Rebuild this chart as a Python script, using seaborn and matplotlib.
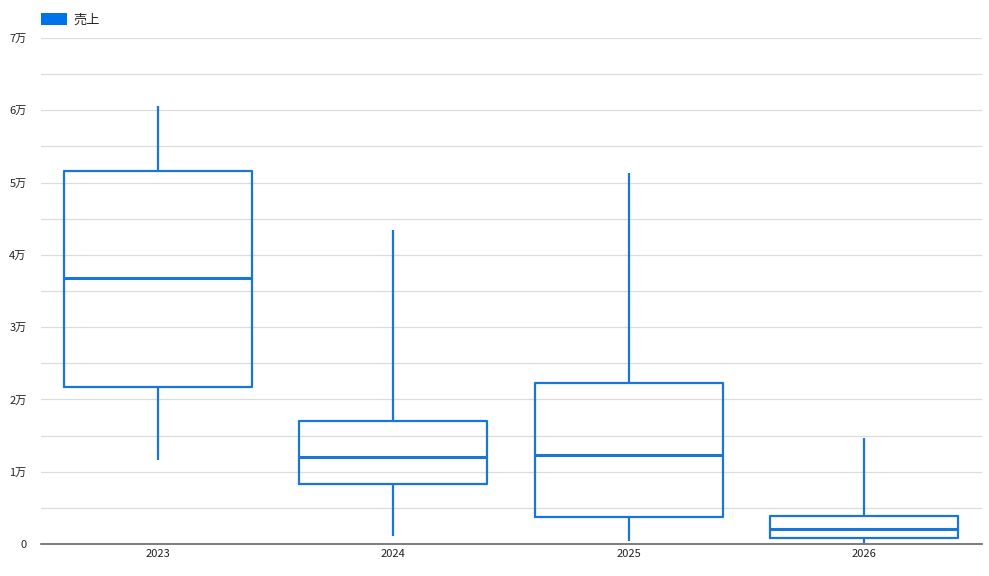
import matplotlib
matplotlib.use("Agg")
import matplotlib.pyplot as plt
from matplotlib.patches import Patch
from matplotlib.ticker import FuncFormatter, MultipleLocator
import pandas as pd
import seaborn as sns

years = ["2023", "2024", "2025", "2026"]
# min, q1, median, q3, max for each year
stats_2023 = [11600, 21700, 36800, 51600, 60600]
stats_2024 = [1100, 8300, 12000, 17000, 43400]
stats_2025 = [400, 3700, 12300, 22300, 51300]
stats_2026 = [100, 800, 2100, 3900, 14700]

rows = []
for year, vals in zip(years, [stats_2023, stats_2024, stats_2025, stats_2026]):
    for v in vals:
        rows.append({"year": year, "sales": v})
df = pd.DataFrame(rows)

sns.set_style("white")
plt.rcParams["font.family"] = ["Noto Sans CJK JP", "DejaVu Sans"]

blue = "#1a76d6"
fig = plt.figure(figsize=(9.89, 5.76), dpi=100)
ax = fig.add_axes([40.5 / 989, 32 / 576, 941 / 989, 506 / 576])

sns.boxplot(
    data=df, x="year", y="sales", ax=ax, whis=(0, 100), width=0.8,
    fill=False, color=blue, showcaps=False,
    boxprops=dict(linewidth=1.6, color=blue),
    whiskerprops=dict(linewidth=1.6, color=blue),
    medianprops=dict(linewidth=2.2, color=blue),
)

ax.set_ylim(0, 70000)
ax.yaxis.set_major_locator(MultipleLocator(10000))
ax.yaxis.set_minor_locator(MultipleLocator(5000))
ax.yaxis.set_major_formatter(
    FuncFormatter(lambda v, p: "0" if v == 0 else f"{int(v // 10000)}万"))
ax.grid(True, axis="y", which="both", color="#dcdcdc", linewidth=0.9)
ax.set_axisbelow(True)
for s in ["top", "right", "left"]:
    ax.spines[s].set_visible(False)
ax.spines["bottom"].set_color("#666666")
ax.spines["bottom"].set_linewidth(1.2)
ax.tick_params(axis="both", length=0, labelsize=8, colors="#222222")
ax.tick_params(axis="y", pad=10)
ax.set_xlabel("")
ax.set_ylabel("")

handle = Patch(facecolor="#0073ea", edgecolor="none")
fig.legend([handle], ["売上"], loc="upper left", bbox_to_anchor=(29 / 989, 1 - 1 / 576),
           frameon=False, fontsize=9.5, handlelength=2.0, handleheight=1.0,
           handletextpad=0.5)

fig.savefig("out.png", dpi=100)
